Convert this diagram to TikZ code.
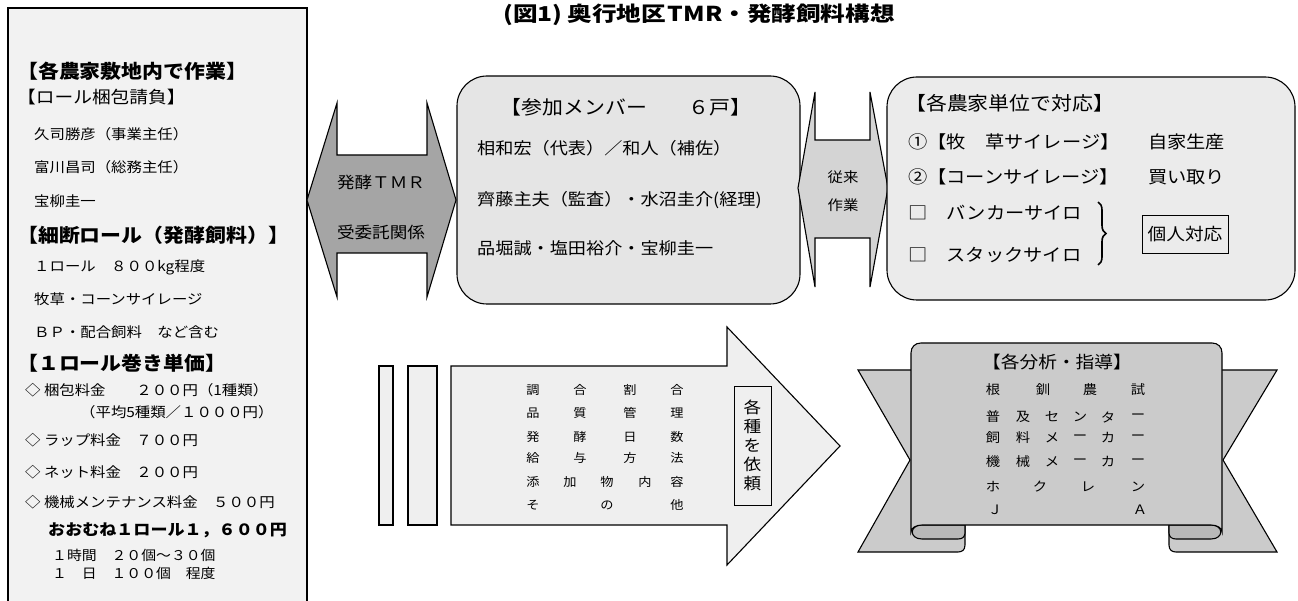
\documentclass[tikz,border=0pt]{standalone}
\usepackage{fontspec}
\usetikzlibrary{decorations.pathreplacing}
\setmainfont[FakeStretch=1.1]{Noto Sans CJK JP}
\newfontfamily\titlefont[FakeStretch=1.2]{Noto Sans CJK JP}
\newcommand\myfs[1]{\fontsize{#1}{#1}\selectfont}
\definecolor{leftfill}{HTML}{F2F2F2}
\definecolor{darkarrow}{HTML}{A5A5A5}
\definecolor{midfill}{HTML}{E5E5E5}
\definecolor{lightarrow}{HTML}{D4D4D4}
\definecolor{rightfill}{HTML}{EBEBEB}
\definecolor{botfill}{HTML}{EFEFEF}
\definecolor{ribfill}{HTML}{CBCBCB}
\definecolor{curlfill}{HTML}{B8B8B8}
\tikzset{
  shp/.style={draw=black, line width=1.1pt, line join=miter},
  txt/.style={inner sep=0pt, anchor=west},
  ctxt/.style={inner sep=0pt, anchor=center},
  hdr/.style={txt, font=\myfs{19}\bfseries},
  body/.style={txt, font=\myfs{14}},
  mid/.style={txt, font=\myfs{16.5}},
  rgt/.style={txt, font=\myfs{17.5}},
  grid/.style={ctxt, font=\myfs{12}},
  rib/.style={ctxt, font=\myfs{13}},
}
\begin{document}
\begin{tikzpicture}[x=1pt,y=-1pt]
\useasboundingbox (0,0) rectangle (1298,601);
% title
\node[ctxt, font=\titlefont\myfs{20.5}\bfseries] (title) at (699,15) {(図1)\hspace{5pt}奥行地区\hspace{2pt}TMR・発酵飼料構想};

% left box
\draw[shp, fill=leftfill] (8,8) rectangle (307,620);
\node[hdr] (l1) at (17,71) {【各農家敷地内で作業】};
\node[txt, font=\myfs{17}] (l2) at (17,97) {【ロール梱包請負】};
\node[body] (l3) at (34,134) {久司勝彦（事業主任）};
\node[body] (l4) at (34,167) {富川昌司（総務主任）};
\node[body] (l5) at (34,201) {宝柳圭一};
\node[hdr] (l6) at (17,235) {【細断ロール（発酵飼料）】};
\node[body] (l7) at (34,267) {１ロール　８００kg程度};
\node[body] (l8) at (34,299) {牧草・コーンサイレージ};
\node[body] (l9) at (34,332) {ＢＰ・配合飼料　など含む};
\node[hdr] (l10) at (17,363) {【１ロール巻き単価】};
\node[body] (l11) at (25,390) {◇ 梱包料金　　２００円（1種類）};
\node[body] (l12) at (80,412) {（平均5種類／１０００円）};
\node[body] (l13) at (25,440) {◇ ラップ料金　７００円};
\node[body] (l14) at (25,472) {◇ ネット料金　２００円};
\node[body] (l15) at (25,502) {◇ 機械メンテナンス料金　５００円};
\node[txt, font=\myfs{15.5}\bfseries] (l16) at (48,530) {おおむね１ロール１，６００円};
\node[txt, font=\myfs{13.5}] (l17) at (52,555) {１時間　２０個～３０個};
\node[txt, font=\myfs{13.5}] (l18) at (52,573) {１　日　１００個　程度};

% left double arrow
\draw[shp, fill=darkarrow] (307,200) -- (337,103) -- (337,155) -- (427,155) -- (427,103) -- (456,200) -- (427,297) -- (427,253) -- (337,253) -- (337,297) -- cycle;
\node[ctxt, font=\myfs{16}] (a1) at (381,182) {発酵ＴＭＲ};
\node[ctxt, font=\myfs{16}] (a2) at (381,232) {受委託関係};

% middle box
\draw[shp, fill=midfill, rounded corners=30pt] (457,76) rectangle (800,304);
\node[ctxt, font=\myfs{19}] (m0) at (626,107) {【参加メンバー　　６戸】};
\node[mid] (m1) at (477,148) {相和宏（代表）／和人（補佐）};
\node[mid] (m2) at (477,200) {齊藤主夫（監査）・水沼圭介(経理)};
\node[mid] (m3) at (477,248) {品堀誠・塩田裕介・宝柳圭一};

% second double arrow
\draw[shp, fill=lightarrow] (798,188) -- (815,92) -- (815,140) -- (870,140) -- (870,92) -- (888,188) -- (870,287) -- (870,238) -- (815,238) -- (815,287) -- cycle;
\node[ctxt, font=\myfs{14}] (b1) at (843,177) {従来};
\node[ctxt, font=\myfs{14}] (b2) at (843,205) {作業};

% right box
\draw[shp, fill=rightfill, rounded corners=30pt] (887,77) rectangle (1295,300);
\node[txt, font=\myfs{19}] (r0) at (905,103) {【各農家単位で対応】};
\node[rgt] (r1) at (908,142) {①【牧　草サイレージ】};
\node[rgt] (r1b) at (1148,142) {自家生産};
\node[rgt] (r2) at (908,177) {②【コーンサイレージ】};
\node[rgt] (r2b) at (1148,177) {買い取り};
\node[rgt] (r3) at (908,213) {□　バンカーサイロ};
\node[rgt] (r4) at (908,255) {□　スタックサイロ};
\coordinate (bt) at (1098,202);
\coordinate (bb) at (1098,265);
\draw[decorate, decoration={brace, amplitude=8pt}, line width=1.6pt] (bt) -- (bb);
\node[draw, line width=0.8pt, minimum width=86pt, minimum height=38pt, inner sep=0pt, font=\myfs{17}] (kojin) at (1185,234) {個人対応};

% bottom arrow
\draw[shp, fill=botfill] (379,366) rectangle (393,525);
\draw[shp, fill=botfill] (408,366) rectangle (437,525);
\draw[shp, fill=botfill] (451,366) -- (727,366) -- (727,327) -- (840,446) -- (727,565) -- (727,525) -- (451,525) -- cycle;
\foreach \c/\x/\y in {調/533/390,合/580/390,割/630/390,合/677/390,
                      品/533/413,質/580/413,管/630/413,理/677/413,
                      発/533/437,酵/580/437,日/630/437,数/677/437,
                      給/533/458,与/580/458,方/630/458,法/677/458,
                      添/533/482,加/570/482,物/607/482,内/645/482,容/677/482,
                      そ/533/505,の/607/505,他/677/505}
  \node[grid] at (\x,\y) {\c};
\node[draw, line width=0.8pt, minimum width=37pt, minimum height=119pt, inner sep=0pt, align=center, font=\fontsize{16}{19}\selectfont] (irai) at (752.5,445.5) {各\\種\\を\\依\\頼};

% ribbon
\draw[shp, fill=ribfill, rounded corners=0pt] (858,370) -- (965,370) -- (965,545) .. controls (965,550) and (962,552) .. (958,552) -- (858,552) -- (910,460) -- cycle;
\draw[shp, fill=ribfill] (1277,370) -- (1169,370) -- (1169,545) .. controls (1169,550) and (1172,552) .. (1176,552) -- (1277,552) -- (1223,460) -- cycle;
\draw[shp, fill=curlfill] (922,525) -- (965,525) -- (965,533) .. controls (965,537) and (962,539) .. (958,539) -- (922,539) .. controls (909,539) and (909,525) .. (922,525) -- cycle;
\draw[shp, fill=curlfill] (1211,525) .. controls (1224,525) and (1224,539) .. (1211,539) -- (1176,539) .. controls (1172,539) and (1169,537) .. (1169,533) -- (1169,525) -- cycle;
\draw[shp, fill=ribfill] (911,532) -- (911,353) .. controls (911,347) and (915,343) .. (921,343) -- (1212,343) .. controls (1218,343) and (1222,347) .. (1222,353) -- (1222,532) .. controls (1222,528) and (1217,525) .. (1211,525) -- (922,525) .. controls (916,525) and (911,528) .. (911,532) -- cycle;
\node[ctxt, font=\myfs{17}] (rh) at (1057,362) {【各分析・指導】};
\foreach \c/\x/\y in {根/993/390,釧/1043/390,農/1090/390,試/1138/390,
                      普/993/417,及/1023/417,セ/1052/417,ン/1080/417,タ/1108/417,ー/1138/417,
                      飼/993/438,料/1023/438,メ/1052/438,ー/1080/438,カ/1108/438,ー/1138/438,
                      機/993/462,械/1023/462,メ/1052/462,ー/1080/462,カ/1108/462,ー/1138/462,
                      ホ/993/487,ク/1040/487,レ/1088/487,ン/1138/487,
                      Ｊ/995/510,Ａ/1140/510}
  \node[rib] at (\x,\y) {\c};
\end{tikzpicture}
\end{document}
